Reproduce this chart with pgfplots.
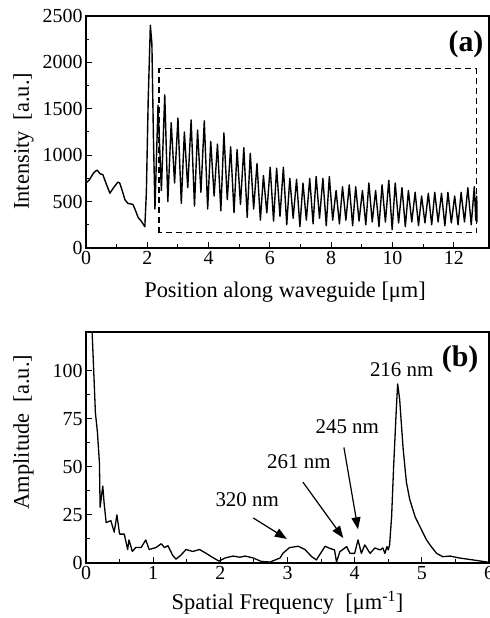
\documentclass[border=0pt]{standalone}
\usepackage{pgfplots}
\pgfplotsset{compat=1.18}
\usepackage{fontspec}
\setmainfont{Liberation Serif}
\usetikzlibrary{arrows.meta}
\pgfplotsset{
  every axis/.append style={
    scale only axis,
    axis line style={line width=1.6bp},
    every tick/.style={black, line width=1bp},
    major tick length=6bp,
    minor tick length=3.5bp,
    tick align=inside,
    xtick pos=bottom, ytick pos=left,
    minor tick num=1,
    /pgf/number format/assume math mode=true,
    /pgf/number format/1000 sep={},
    tick label style={font=\fontsize{20}{22}\selectfont},
    label style={font=\fontsize{22.5}{24}\selectfont},
  }
}
\begin{document}
\begin{tikzpicture}
\path[use as bounding box] (0bp,0bp) rectangle (490bp,618bp);
\begin{axis}[at={(86bp,370bp)}, anchor=south west, width=403bp, height=232bp,
  xmin=0, xmax=13.15, ymin=0, ymax=2500,
  xtick={0,2,4,6,8,10,12}, ytick={0,500,1000,1500,2000,2500},
  xlabel={Position along waveguide [μm]},
  ylabel={Intensity\ \ [a.u.]},
  xlabel style={at={(axis description cs:0.494,-0.215)}, anchor=base},
  ylabel style={at={(axis description cs:-0.155,0.46)}, anchor=center},
]
\addplot[black, line width=1.4bp, line join=round] coordinates {
(0.00,700) (0.10,730) (0.25,810) (0.36,840) (0.46,800) (0.55,790) (0.65,700)
(0.78,590) (0.90,650) (1.04,710) (1.10,700) (1.20,600) (1.27,520) (1.37,480)
(1.53,470) (1.62,400) (1.70,330) (1.80,290) (1.92,230) (1.97,600) (2.03,1600)
(2.10,2400) (2.15,2200) (2.20,1200) (2.25,420)
(2.35,1540) (2.46,620) (2.57,1650) (2.67,500) (2.78,1350) (2.89,700)
(3.00,1400) (3.11,480) (3.21,1250) (3.32,650) (3.43,1380) (3.54,450)
(3.64,1270) (3.75,600) (3.86,1370) (3.97,420) (4.07,1150) (4.18,560)
(4.29,1120) (4.40,400) (4.50,1240) (4.61,520) (4.72,1090) (4.83,380)
(4.93,1060) (5.04,470) (5.15,1080) (5.26,330) (5.36,1020) (5.47,420)
(5.58,910) (5.69,300) (5.79,780) (5.90,380) (6.01,870) (6.12,290)
(6.22,860) (6.33,340) (6.44,870) (6.55,250) (6.65,750) (6.76,320)
(6.87,740) (6.98,230) (7.08,700) (7.19,300) (7.30,750) (7.41,260)
(7.51,770) (7.62,320) (7.73,750) (7.84,240) (7.94,770) (8.05,300)
(8.16,620) (8.27,260) (8.37,660) (8.48,300) (8.59,680) (8.70,240)
(8.80,660) (8.91,290) (9.02,620) (9.13,250) (9.23,700) (9.34,280)
(9.45,620) (9.56,230) (9.66,680) (9.77,280) (9.88,730) (9.99,200)
(10.09,700) (10.20,270) (10.31,650) (10.42,230) (10.52,620) (10.63,280)
(10.74,600) (10.85,240) (10.95,560) (11.06,270) (11.17,590) (11.28,250)
(11.38,600) (11.49,280) (11.60,590) (11.71,240) (11.81,600) (11.92,270)
(12.03,560) (12.14,250) (12.24,600) (12.35,280) (12.46,650) (12.57,250)
(12.67,660) (12.72,300) (12.75,560) (12.76,280)
};
\draw[black, line width=1.2bp, dash pattern=on 6bp off 4bp]
  (axis cs:2.38,165) rectangle (axis cs:12.74,1930);
\node[font=\fontsize{30}{32}\selectfont\bfseries] at (axis cs:12.40,2200) {(a)};
\end{axis}

\begin{axis}[at={(86bp,55bp)}, anchor=south west, width=403bp, height=231bp,
  xmin=0, xmax=6, ymin=0, ymax=120,
  xtick={0,1,2,3,4,5,6}, ytick={0,25,50,75,100},
  xlabel={Spatial Frequency\ \ [μm\textsuperscript{-1}]},
  ylabel={Amplitude\ \ [a.u.]},
  xlabel style={at={(axis description cs:0.5,-0.2)}, anchor=base},
  ylabel style={at={(axis description cs:-0.155,0.567)}, anchor=center},
]
\addplot[black, line width=1.3bp, line join=round] coordinates {
(0.09,121) (0.11,104) (0.14,78) (0.17,68) (0.20,52) (0.21,29) (0.25,40)
(0.27,31) (0.30,21) (0.37,22) (0.42,16) (0.46,25) (0.50,15) (0.57,15)
(0.62,7) (0.64,12) (0.69,6) (0.74,8) (0.82,8) (0.89,12) (0.94,7)
(1.04,8) (1.12,10) (1.17,8) (1.22,9) (1.29,4) (1.34,2) (1.41,4)
(1.49,7) (1.59,6) (1.69,7) (1.79,5) (1.88,3) (1.98,1) (2.07,2.6)
(2.19,3.6) (2.29,3) (2.37,3.6) (2.49,2.6) (2.61,0.8) (2.74,0.5)
(2.89,2.6) (2.93,5) (3.03,8) (3.16,8.7) (3.26,7) (3.36,3.3) (3.43,1.6)
(3.56,8.7) (3.63,7.6) (3.70,6.8) (3.73,0.5) (3.78,5.9) (3.88,8.5)
(3.93,5) (4.00,5) (4.05,12) (4.10,5) (4.15,9.4) (4.23,5) (4.30,7.8)
(4.38,6.8) (4.42,7.8) (4.45,5) (4.48,8.5) (4.50,6.8) (4.52,9.4)
(4.55,24) (4.58,50) (4.62,80) (4.64,93) (4.67,85) (4.72,60) (4.77,42)
(4.82,33) (4.90,24) (4.97,19) (5.07,12) (5.14,8.5) (5.22,5) (5.31,3.3)
(5.42,3.6) (5.56,2.6) (5.76,1.6) (5.97,0.5) (6.00,0.3)
};
\begin{scope}[font=\fontsize{21}{23}\selectfont]
\node at (axis cs:4.70,100.5) {216 nm};
\node at (axis cs:3.89,71) {245 nm};
\node at (axis cs:3.17,52.6) {261 nm};
\node at (axis cs:2.40,33) {320 nm};
\end{scope}
\node[font=\fontsize{30}{32}\selectfont\bfseries] at (axis cs:5.57,106) {(b)};
\draw[line width=1.2bp, -{Triangle[length=12bp,width=9bp]}] (axis cs:2.49,23.4) -- (axis cs:2.99,12.5);
\draw[line width=1.2bp, -{Triangle[length=12bp,width=9bp]}] (axis cs:3.23,42) -- (axis cs:3.83,13);
\draw[line width=1.2bp, -{Triangle[length=12bp,width=9bp]}] (axis cs:3.84,60) -- (axis cs:4.05,17.5);
\end{axis}
\end{tikzpicture}
\end{document}
